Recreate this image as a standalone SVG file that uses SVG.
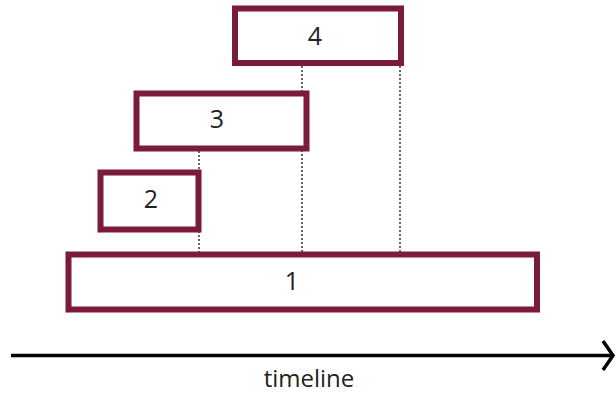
<svg xmlns="http://www.w3.org/2000/svg" width="616" height="394" viewBox="0 0 616 394">
<style>
.box{fill:#fff;stroke:#7a1a3c;stroke-width:6}
.lbl{font-family:"Open Sans","Liberation Sans",sans-serif;font-size:25px;fill:#222;text-anchor:middle}
.dot{stroke:#333;stroke-width:1.5;stroke-dasharray:2 2}
</style>
<rect width="616" height="394" fill="#fff"/>
<g id="connectors">
<line class="dot" x1="199" y1="151" x2="199" y2="252"/>
<line class="dot" x1="302" y1="66" x2="302" y2="252"/>
<line class="dot" x1="400" y1="66" x2="400" y2="252"/>
<line x1="11" y1="355.5" x2="612" y2="355.5" stroke="#000" stroke-width="3.5"/>
<polyline points="603,341 613,355.5 603,370" fill="none" stroke="#000" stroke-width="3.5"/>
</g>
<g id="node4"><rect class="box" x="235" y="8.5" width="166" height="54.5"/><text class="lbl" x="315" y="45">4</text></g>
<g id="node3"><rect class="box" x="136.5" y="93.5" width="170" height="55"/><text class="lbl" x="217" y="128">3</text></g>
<g id="node2"><rect class="box" x="100.5" y="172.5" width="98" height="57"/><text class="lbl" x="151" y="208">2</text></g>
<g id="node1"><rect class="box" x="68.5" y="254.5" width="468.5" height="55"/><text class="lbl" x="292" y="290">1</text></g>
<text id="timeline" x="309" y="387" font-family="'Open Sans','Liberation Sans',sans-serif" font-size="24" fill="#222" text-anchor="middle">timeline</text>
</svg>
